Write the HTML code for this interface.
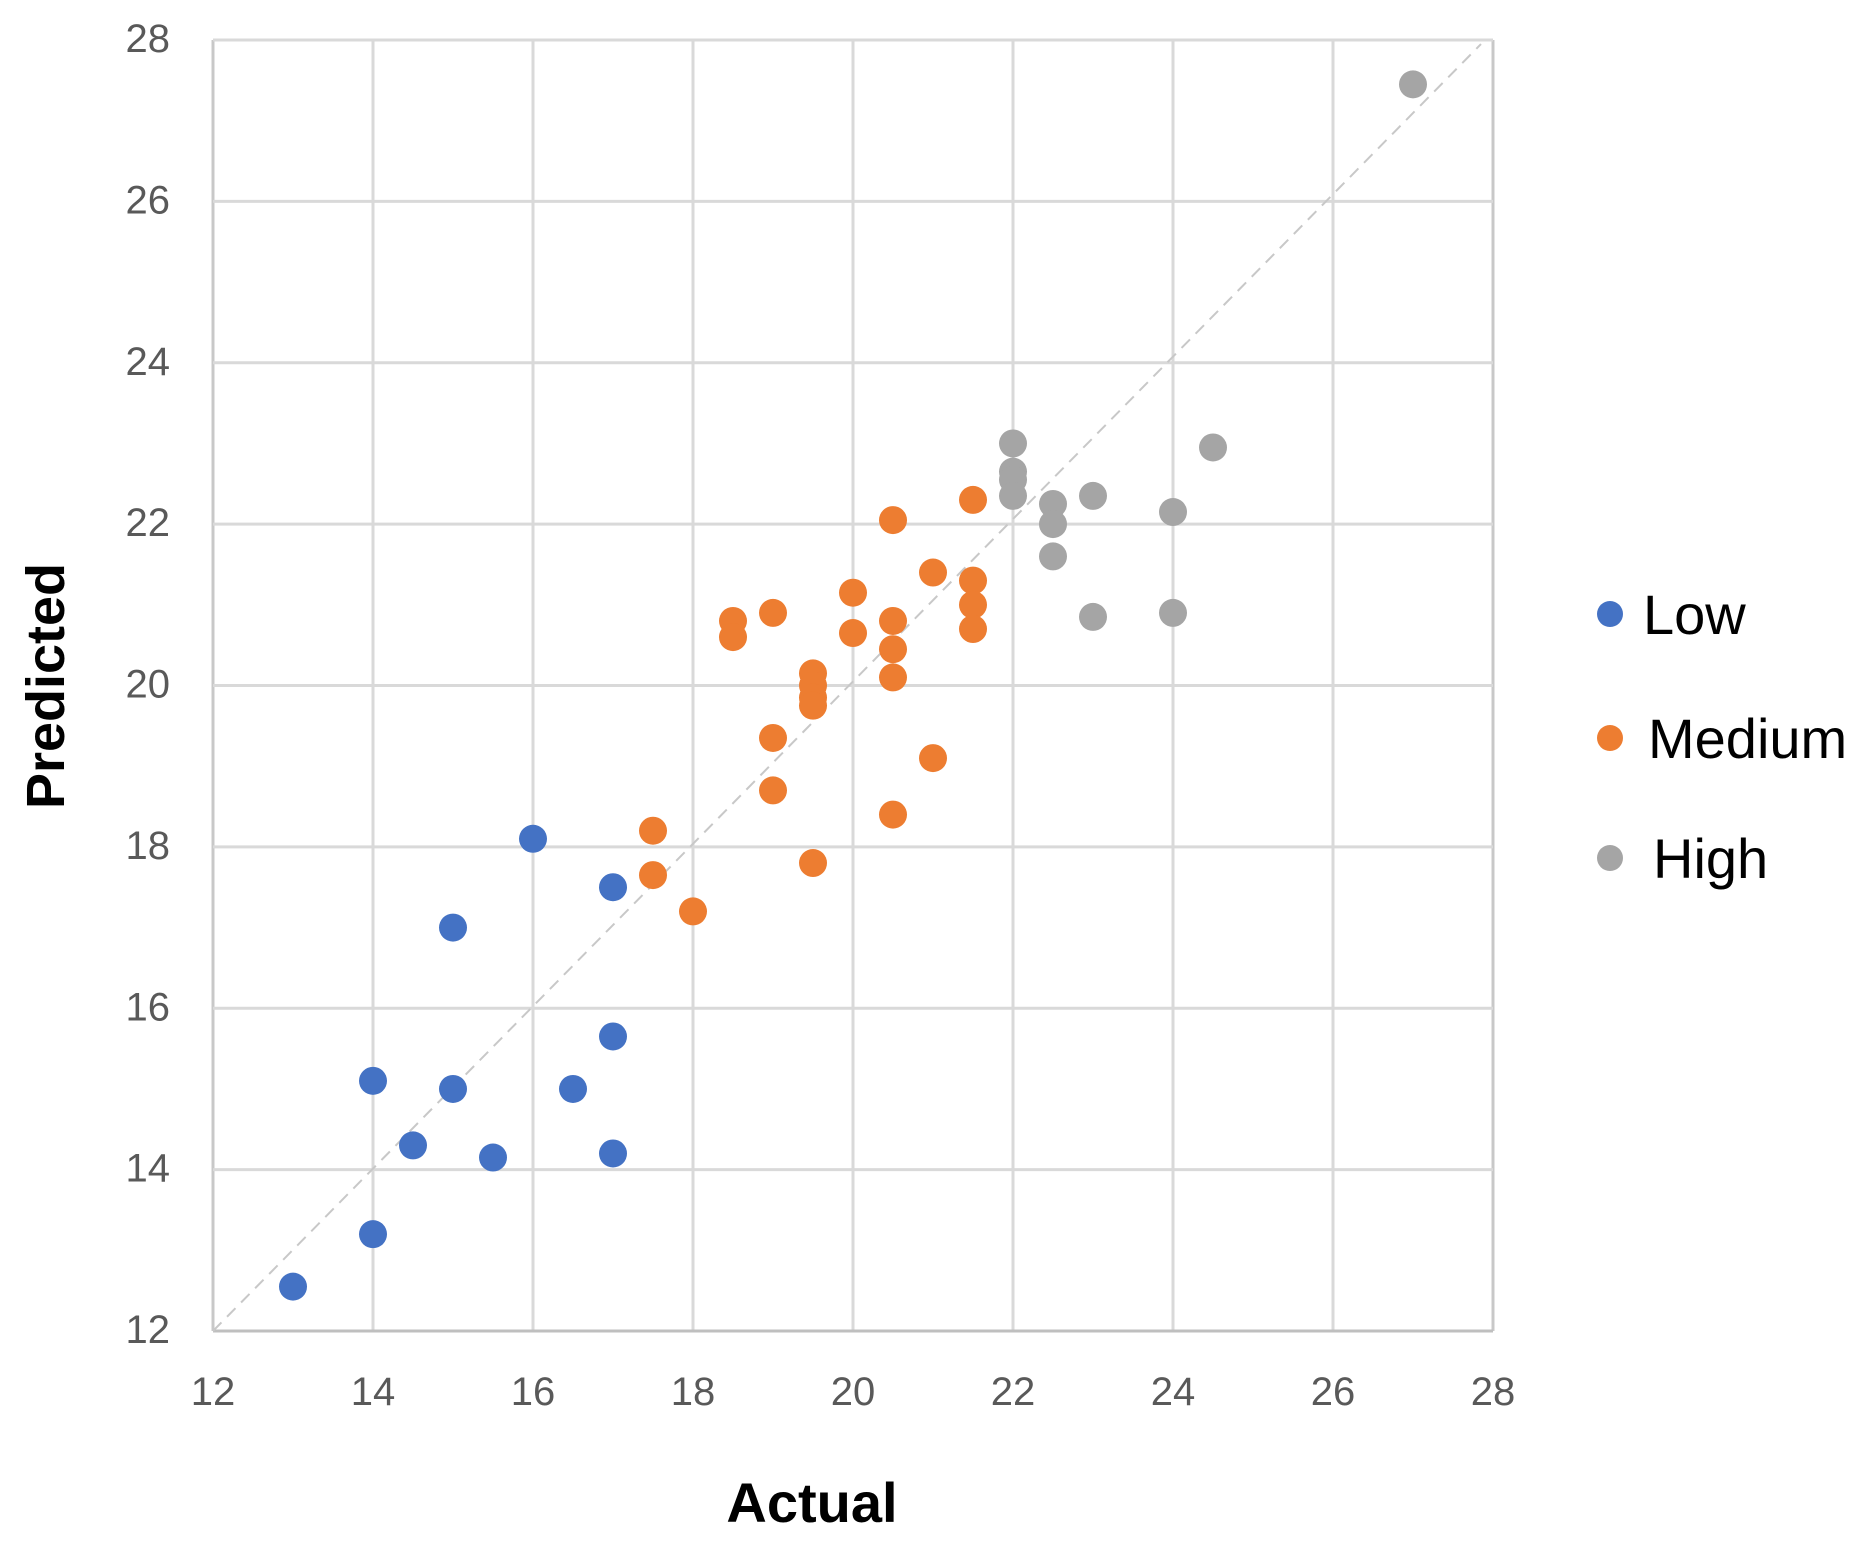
<!DOCTYPE html>
<html><head><meta charset="utf-8"><style>
html,body{margin:0;padding:0;background:#fff;}
svg{display:block;font-family:"Liberation Sans",Arial,sans-serif;}
</style></head><body>
<svg id="chart" width="1869" height="1545" viewBox="0 0 1869 1545" xmlns="http://www.w3.org/2000/svg">
<g id="grid"></g>
<g id="ticks"></g>
<line id="diag" stroke="#c8c8c8" stroke-width="2" stroke-dasharray="12,8"/>
<g id="points"></g>
<text x="812" y="1522" text-anchor="middle" font-size="56" font-weight="bold" fill="#000">Actual</text>
<text transform="translate(64,686) rotate(-90)" text-anchor="middle" font-size="54" font-weight="bold" fill="#000">Predicted</text>
<g>
<g><circle cx="1610" cy="614" r="13" fill="#4472C4"/><text x="1643" y="634" font-size="56" fill="#000">Low</text></g>
<g><circle cx="1610" cy="738" r="13" fill="#ED7D31"/><text x="1648" y="758" font-size="56" fill="#000">Medium</text></g>
<g><circle cx="1610" cy="858" r="13" fill="#A5A5A5"/><text x="1653" y="878" font-size="56" fill="#000">High</text></g>
</g>
</svg>
<script>
const xTicks = [12,14,16,18,20,22,24,26,28];
const yTicks = [12,14,16,18,20,22,24,26,28];
const lowX = [13,14,14,14.5,15,15,15.5,16,16.5,17,17,17];
const lowY = [12.55,13.2,15.1,14.3,15,17,14.15,18.1,15,17.5,15.65,14.2];
const medX = [17.5,17.5,18,18.5,18.5,19,19,19,19.5,19.5,19.5,19.5,19.5,20,20,20.5,20.5,20.5,20.5,20.5,21,21,21.5,21.5,21.5,21.5];
const medY = [18.2,17.65,17.2,20.8,20.6,20.9,19.35,18.7,20.15,20,19.85,19.75,17.8,21.15,20.65,22.05,20.8,20.45,20.1,18.4,21.4,19.1,22.3,21.3,21,20.7];
const highX = [22,22,22,22,22.5,22.5,22.5,23,23,24,24,24.5,27];
const highY = [23,22.65,22.55,22.35,22.25,22,21.6,22.35,20.85,22.15,20.9,22.95,27.45];

const X0=213,X1=1493,Y0=1331,Y1=40,MIN=12,MAX=28;
const sx=v=>X0+(v-MIN)/(MAX-MIN)*(X1-X0);
const sy=v=>Y0-(v-MIN)/(MAX-MIN)*(Y0-Y1);
const NS="http://www.w3.org/2000/svg";
const grid=document.getElementById('grid'),ticks=document.getElementById('ticks'),pts=document.getElementById('points');
function mk(tag,attrs,parent){const e=document.createElementNS(NS,tag);for(const k in attrs)e.setAttribute(k,attrs[k]);parent.appendChild(e);return e;}
xTicks.forEach(v=>{
  const l=mk('line',{x1:sx(v),x2:sx(v),y1:Y1,y2:Y0,stroke:(v===MIN||v===MAX)?'#c8c8c8':'#d9d9d9','stroke-width':3},grid);
  
  
  const t=mk('text',{x:sx(v),y:1405,'text-anchor':'middle','font-size':40,fill:'#595959'},ticks);
  t.textContent=v;
  
  
});
yTicks.forEach(v=>{
  const l=mk('line',{x1:X0,x2:X1,y1:sy(v),y2:sy(v),stroke:(v===MIN)?'#bfbfbf':'#d9d9d9','stroke-width':3},grid);
  
  
  const t=mk('text',{x:170,y:sy(v)+12,'text-anchor':'end','font-size':40,fill:'#595959'},ticks);
  t.textContent=v;
  
  
});
const d=document.getElementById('diag');
d.setAttribute('x1',sx(12));d.setAttribute('y1',sy(12));d.setAttribute('x2',sx(27.85));d.setAttribute('y2',sy(27.95));
function series(xs,ys,color,name){
  xs.forEach((x,i)=>{
    const c=mk('circle',{cx:sx(x),cy:sy(ys[i]),r:14,fill:color},pts);
    
    
  });
}
series(lowX,lowY,'#4472C4','point-low');
series(medX,medY,'#ED7D31','point-medium');
series(highX,highY,'#A5A5A5','point-high');
</script>
</body></html>
